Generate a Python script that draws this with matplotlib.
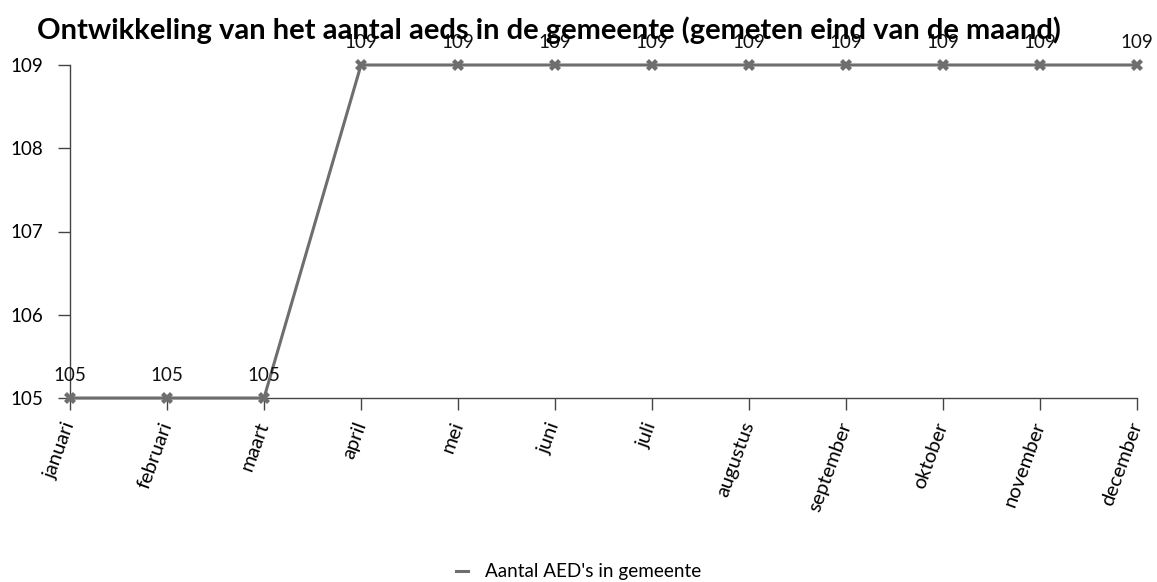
import matplotlib
matplotlib.use("Agg")
import matplotlib.pyplot as plt

months = ["januari", "februari", "maart", "april", "mei", "juni", "juli",
          "augustus", "september", "oktober", "november", "december"]
aeds = [105, 105, 105, 109, 109, 109, 109, 109, 109, 109, 109, 109]
yticks = [105, 106, 107, 108, 109]
series_name = "Aantal AED's in gemeente"
title = "Ontwikkeling van het aantal aeds in de gemeente (gemeten eind van de maand)"

plt.rcParams['font.family'] = ['Lato', 'DejaVu Sans']
W, H = 1157, 582
fig = plt.figure(figsize=(W / 100, H / 100), dpi=100)
ax = fig.add_axes([70 / W, 1 - 398 / H, (1137 - 70) / W, (398 - 65) / H])

color = "#6e6e6e"
x = list(range(len(months)))
ax.plot(x, aeds, color=color, lw=2.2, marker="X", markersize=9,
        markeredgewidth=0, label=series_name, clip_on=False, zorder=3)
for xi, v in zip(x, aeds):
    ax.annotate(str(v), (xi, v), xytext=(0, 10), textcoords="offset points",
                ha="center", va="bottom", fontsize=13.5, color="#111111",
                annotation_clip=False)

ax.set_xlim(0, len(months) - 1)
ax.set_ylim(105, 109)
ax.set_xticks(x)
ax.set_xticklabels(months, rotation=70, ha="right", va="center",
                   rotation_mode="anchor", fontsize=14.5)
ax.set_yticks(yticks)
ax.set_yticklabels([str(t) for t in yticks], fontsize=13.5)
for s in ["top", "right"]:
    ax.spines[s].set_visible(False)
for s in ["left", "bottom"]:
    ax.spines[s].set_color("#444444")
    ax.spines[s].set_linewidth(1)
ax.tick_params(axis="both", length=8.6, width=1, color="#444444")
ax.tick_params(axis="x", pad=9)
ax.tick_params(axis="y", pad=10.5)

fig.text(37 / W, 1 - 39 / H, title, fontsize=21, fontweight="bold",
         ha="left", va="baseline", color="black")

leg = fig.legend(handles=[plt.Line2D([], [], color=color, lw=2.2)],
                 labels=[series_name], loc="center", bbox_to_anchor=(0.5, 1 - 572 / H),
                 frameon=False, fontsize=13.6, handlelength=0.6, handletextpad=0.9)
fig.savefig("out.png", dpi=100)
